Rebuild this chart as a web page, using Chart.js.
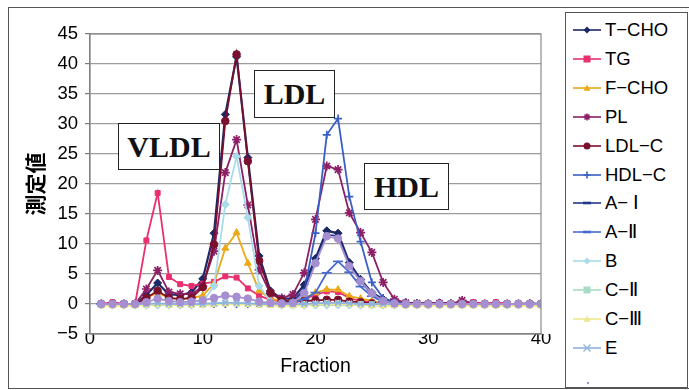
<!DOCTYPE html>
<html>
<head>
<meta charset="utf-8">
<script src="https://cdn.jsdelivr.net/npm/chart.js@4.4.1/dist/chart.umd.min.js"></script>
<style>
    body { margin: 0; background: #fff; }
    #wrap { position: relative; width: 689px; height: 390px; background: #fff; overflow: hidden; }
    #frame { position: absolute; left: 8px; top: 7px; width: 690px; height: 380px; border: 1.5px solid #555; }
    #c { position: absolute; left: 0; top: 0; }
    .tag { position: absolute; border: 1.5px solid #222; background: #fff; font: bold 30px "Liberation Serif", "DejaVu Serif", serif; color: #111; display: flex; align-items: center; justify-content: center; }
    #legend { position: absolute; left: 565px; top: 12px; width: 121px; height: 374px; border: 1.5px solid #555; background: #fff; }
    .item { position: absolute; left: 0; height: 20px; width: 120px; }
    .item svg { position: absolute; left: 6px; top: 3px; }
    .item span { position: absolute; left: 39px; top: 0; font: 18.5px "Liberation Sans", Arial, sans-serif; color: #000; line-height: 20px; white-space: nowrap; }
</style>
</head>
<body>
<div id="wrap">
    <div id="frame"></div>
    <canvas id="c" width="689" height="390"></canvas>
    <div class="tag" style="left:118px;top:123px;width:100px;height:45px;">VLDL</div>
    <div class="tag" style="left:254px;top:70px;width:79px;height:46px;">LDL</div>
    <div class="tag" style="left:364px;top:163px;width:83px;height:45px;">HDL</div>
    <div id="legend"></div>
</div>
<script>
// fractions 1..40
const fractions = Array.from({ length: 40 }, (_, i) => i + 1);
const yTicks = [-5, 0, 5, 10, 15, 20, 25, 30, 35, 40, 45];
const xTicks = [0, 10, 20, 30, 40];

const seriesNames = ['T\u2212CHO', 'TG', 'F\u2212CHO', 'PL', 'LDL\u2212C', 'HDL\u2212C', 'A\u2212 \u2160', 'A\u2212\u2161', 'B', 'C\u2212\u2161', 'C\u2212\u2162', 'E', ''];

const tcho = [0, 0, 0, 0, 1.5, 3.5, 1.6, 1.5, 1.9, 4.2, 11.8, 31.6, 41.2, 24.4, 8.0, 2.2, 0.9, 0.9, 3.2, 7.6,
              12.2, 11.8, 6.9, 4.1, 1.9, 0.8, 0.3, 0.2, 0.1, 0.1, 0.2, 0.1, 0, 0.1, 0, 0.1, 0, 0, 0.1, 0];
const tg   = [0, 0.3, 0, 0, 10.6, 18.5, 4.5, 3.3, 3.0, 3.4, 3.7, 4.6, 4.4, 2.6, 1.4, 0.7, 0.4, 0.4, 0.8, 1.5,
              2.1, 2.0, 1.0, 0.5, 0.3, 0.2, 0.1, 0, 0, 0, 0.2, 0, 0, 0.3, 0, 0.3, 0, 0, -0.2, 0];
const fcho = [0, 0, 0, 0, 1.0, 1.9, 1.0, 0.8, 1.0, 1.4, 3.4, 9.3, 11.9, 6.8, 2.2, 0.9, 0.5, 0.5, 0.9, 1.9,
              2.4, 2.4, 1.3, 0.9, 0.5, 0.2, 0, 0, 0, 0, 0, 0, 0, 0, 0, 0, 0, 0, 0, 0];
const pl   = [0, 0, 0, 0, 2.5, 5.6, 2.0, 1.7, 1.6, 3.0, 8.8, 21.9, 27.4, 16.5, 5.7, 1.7, 1.0, 1.6, 5.2, 14.1,
              23.0, 22.4, 15.2, 11.9, 8.6, 3.6, 0.8, 0.2, 0.1, 0, 0.1, 0, 0.6, 0.1, 0, 0, 0, 0, 0, 0];
const ldlc = [0, 0, 0, 0, 1.0, 2.2, 1.0, 0.8, 1.0, 2.8, 9.9, 30.5, 41.6, 23.8, 7.2, 1.9, 0.6, 0.4, 0.5, 0.6,
              0.7, 0.7, 0.4, 0.3, 0.1, 0, 0, 0, 0, 0, 0, 0, 0, 0, 0, 0, 0, 0, 0, 0];
const hdlc = [0, 0, 0, 0, 0, 0, 0, 0, 0, 0, 0, 0, 0, 0, 0, 0, 0.1, 0.3, 2.0, 11.8,
              28.2, 30.9, 17.9, 10.4, 3.6, 1.0, 0.3, 0, 0, 0, 0, 0, 0, 0, 0, 0, 0, 0, 0, 0];
const apoA1 = [0, 0, 0, 0, 0, 0, 0, 0, 0, 0, 0, 0, 0, 0, 0, 0, 0.1, 0.4, 2.5, 7.2,
               11.6, 11.3, 6.7, 3.8, 1.6, 0.5, 0.1, 0, 0, 0, 0, 0, 0, 0, 0, 0, 0, 0, 0, 0];
const apoA2 = [0, 0, 0, 0, 0, 0, 0, 0, 0, 0, 0, 0, 0, 0, 0, 0, 0, 0.2, 0.8, 1.9,
               5.2, 7.1, 5.3, 2.9, 1.3, 0.4, 0, 0, 0, 0, 0, 0, 0, 0, 0, 0, 0, 0, 0, 0];
const apoB = [-0.2, -0.2, -0.2, -0.2, -0.2, -0.2, -0.2, -0.2, -0.2, 0.3, 3.0, 16.6, 24.6, 14.4, 3.0, 0.4, -0.2, -0.2, -0.2, -0.2,
              -0.2, -0.2, -0.2, -0.2, -0.2, -0.2, -0.2, -0.2, -0.2, -0.2, -0.2, -0.2, -0.2, -0.2, -0.2, -0.2, -0.2, -0.2, -0.2, -0.2];
const apoC2 = [-0.1, -0.1, -0.1, -0.1, -0.1, 0, 0, 0, 0, 0, 0.1, 0.2, 0.2, 0.1, 0, 0, -0.1, -0.1, -0.1, 0,
               0.1, 0.1, 0, 0, -0.1, -0.1, -0.1, -0.1, -0.1, -0.1, -0.1, -0.1, -0.1, -0.1, -0.1, -0.1, -0.1, -0.1, -0.1, -0.1];
const apoC3 = [-0.3, -0.3, -0.3, -0.3, -0.2, -0.1, -0.2, -0.2, -0.2, -0.2, -0.1, 0, 0, -0.1, -0.2, -0.3, -0.3, -0.3, -0.2, -0.1,
               0, 0, -0.1, -0.2, -0.3, -0.3, -0.3, -0.3, -0.3, -0.3, -0.3, -0.3, -0.3, -0.3, -0.3, -0.3, -0.3, -0.3, -0.3, -0.3];
const apoE = [0, 0, 0, 0, 0, 0.1, 0, 0, 0, 0, 0.1, 0.2, 0.2, 0.1, 0, 0, 0, 0, 0, 0.1,
              0.2, 0.2, 0.1, 0, 0, 0, 0, 0, 0, 0, 0, 0, 0, 0, 0, 0, 0, 0, 0, 0];
const other = [0, 0, 0, 0, 0.3, 0.9, 0.5, 0.3, 0.4, 0.6, 1.0, 1.4, 1.2, 0.9, 0.4, 0.2, 0.1, 0.2, 1.8, 6.8,
               11.3, 10.9, 6.3, 3.8, 1.8, 0.5, 0.1, 0, 0, 0, 0, 0, 0, 0, 0, 0, 0, 0, 0, 0];

const seriesData = [tcho, tg, fcho, pl, ldlc, hdlc, apoA1, apoA2, apoB, apoC2, apoC3, apoE, other];
const seriesColors = ['#1b2766', '#ea2f6e', '#eaa918', '#8c1f66', '#7a102e', '#3a5fc4', '#22378c', '#4769cf',
                      '#a9dbe9', '#a7dcc5', '#ece88a', '#8fb3e0', '#a58fd1'];
const seriesMarkers = ['rectRot', 'rect', 'triangle', 'star', 'circle', 'cross', 'line', 'line',
                       'rectRot', 'rect', 'triangle', 'crossRot', 'circle'];
const markerSizes = [4, 3.5, 4, 4.5, 3.8, 4, 3, 5, 4, 3.5, 4, 4, 3.8];

const datasets = seriesData.map((vals, i) => {
    const filled = ['rectRot', 'rect', 'triangle', 'circle'].includes(seriesMarkers[i]);
    return {
        label: seriesNames[i],
        data: fractions.map((f, k) => ({ x: f, y: vals[k] })),
        borderColor: seriesColors[i],
        backgroundColor: seriesColors[i],
        borderWidth: i === 0 ? 2.2 : 1.8,
        pointStyle: seriesMarkers[i],
        pointRadius: markerSizes[i],
        pointBorderWidth: filled ? 1 : 1.7,
        pointBackgroundColor: seriesColors[i],
        pointBorderColor: seriesColors[i],
        tension: 0,
        order: seriesData.length - 1 - i
    };
});

const plotFrame = {
    id: 'plotFrame',
    afterDraw(chart) {
        const { ctx, chartArea: a } = chart;
        ctx.save();
        ctx.strokeStyle = '#8a8a8a';
        ctx.lineWidth = 1.2;
        ctx.strokeRect(a.left, a.top, a.right - a.left, a.bottom - a.top);
        ctx.restore();
    }
};

new Chart(document.getElementById('c'), {
    type: 'line',
    data: { datasets },
    options: {
        responsive: false,
        animation: false,
        devicePixelRatio: 1,
        layout: { padding: { left: 0, top: 34, right: 148, bottom: 0 } },
        plugins: { legend: { display: false }, tooltip: { enabled: false } },
        scales: {
            x: {
                type: 'linear',
                min: 0, max: 40,
                afterFit: s => { s.height = 56; },
                afterBuildTicks: s => { s.ticks = xTicks.map(v => ({ value: v })); },
                grid: { display: false },
                border: { display: true, color: '#777', width: 1.2 },
                ticks: { color: '#000', font: { family: 'Liberation Sans', size: 18.5 }, padding: -14, maxRotation: 0 },
                title: { display: true, text: 'Fraction', color: '#000', font: { family: 'Liberation Sans', size: 19.5 }, padding: { top: 0, bottom: 12 } }
            },
            y: {
                min: -5, max: 45,
                afterFit: s => { s.width = 90; },
                afterBuildTicks: s => { s.ticks = yTicks.map(v => ({ value: v })); },
                grid: { color: '#9c9c9c', lineWidth: 1.2, tickLength: 5, tickColor: '#777' },
                border: { display: true, color: '#777', width: 1.2 },
                ticks: {
                    color: '#000', font: { family: 'Liberation Sans', size: 18.5 }, padding: 7,
                    callback: v => v < 0 ? '\u2212' + Math.abs(v) : String(v)
                },
                title: { display: true, text: '測定値', color: '#000', font: { family: 'Noto Sans CJK JP', size: 21, weight: 'bold' }, padding: { top: 22, bottom: 0 } }
            }
        }
    },
    plugins: [plotFrame]
});

// legend with line + marker, like the spreadsheet legend
function markerSvg(style, color, r) {
    const cx = 15, cy = 7;
    let m = '';
    if (style === 'rectRot') m = `<polygon points="${cx},${cy - r} ${cx + r},${cy} ${cx},${cy + r} ${cx - r},${cy}" fill="${color}"/>`;
    else if (style === 'rect') m = `<rect x="${cx - r}" y="${cy - r}" width="${2 * r}" height="${2 * r}" fill="${color}"/>`;
    else if (style === 'triangle') m = `<polygon points="${cx},${cy - r} ${cx + r},${cy + r * 0.8} ${cx - r},${cy + r * 0.8}" fill="${color}"/>`;
    else if (style === 'circle') m = `<circle cx="${cx}" cy="${cy}" r="${r}" fill="${color}"/>`;
    else if (style === 'cross') m = `<path d="M${cx} ${cy - r}V${cy + r}M${cx - r} ${cy}H${cx + r}" stroke="${color}" stroke-width="1.6"/>`;
    else if (style === 'crossRot') m = `<path d="M${cx - r} ${cy - r}L${cx + r} ${cy + r}M${cx - r} ${cy + r}L${cx + r} ${cy - r}" stroke="${color}" stroke-width="1.4"/>`;
    else if (style === 'star') m = `<path d="M${cx} ${cy - r}V${cy + r}M${cx - r} ${cy}H${cx + r}M${cx - r * 0.7} ${cy - r * 0.7}L${cx + r * 0.7} ${cy + r * 0.7}M${cx - r * 0.7} ${cy + r * 0.7}L${cx + r * 0.7} ${cy - r * 0.7}" stroke="${color}" stroke-width="1.6"/>`;
    else if (style === 'line') m = `<path d="M${cx - r} ${cy}H${cx + r}" stroke="${color}" stroke-width="2.6"/>`;
    return `<svg width="30" height="14"><path d="M1 7H29" stroke="${color}" stroke-width="1.6"/>${m}</svg>`;
}

const legend = document.getElementById('legend');
seriesNames.forEach((name, i) => {
    const el = document.createElement('div');
    el.className = 'item';
    el.style.top = (29 + i * 28.9 - 12 - 10) + 'px';
    if (name) {
        el.innerHTML = markerSvg(seriesMarkers[i], seriesColors[i], seriesMarkers[i] === 'line' ? 4 : 3.5) + `<span>${name}</span>`;
    } else {
        // last entry is cut off by the legend box in the original
        el.innerHTML = `<svg width="30" height="14" style="left:18px;top:12px"><circle cx="4" cy="4" r="1.2" fill="${seriesColors[i]}"/></svg>`;
    }
    legend.appendChild(el);
});
</script>
</body>
</html>
